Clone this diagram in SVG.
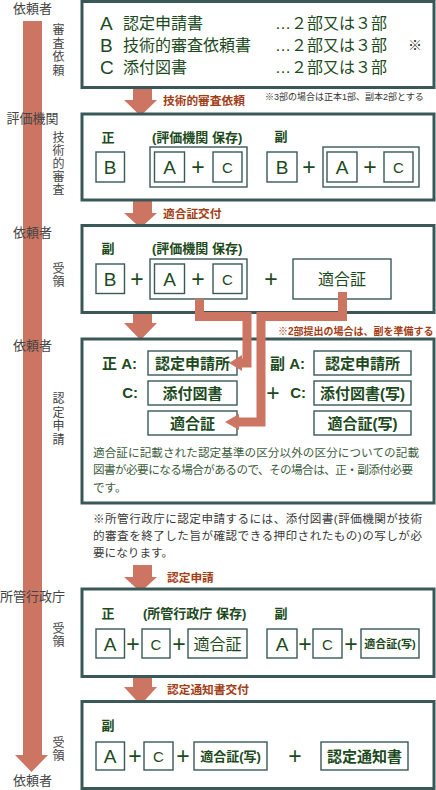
<svg xmlns="http://www.w3.org/2000/svg" width="436" height="790" viewBox="0 0 436 790">
<style>
text{font-family:"Liberation Sans","Noto Sans CJK JP",sans-serif;dominant-baseline:central}
.frame{fill:#fff;stroke:#3a5858;stroke-width:3}
.ib{fill:#fff;stroke:#3a5858;stroke-width:1.4}
.t{fill:#1d4a1d}
.lbl{fill:#444;font-size:13px}
.vl{fill:#444;font-size:12px;text-anchor:middle}
.red{fill:#a33d15;font-size:11.7px;font-weight:bold}
.big{font-size:16px;fill:#1d4a1d}
.hd{font-size:13px;font-weight:bold;fill:#1d4a1d}
.L{font-size:19px;fill:#1d4a1d;text-anchor:middle}
.C{font-size:15px;fill:#1d4a1d;text-anchor:middle}
.p{font-size:23px;fill:#1d4a1d;text-anchor:middle}
.bx{font-size:15px;font-weight:bold;fill:#1d4a1d;text-anchor:middle}
.para{font-size:11.6px;fill:#3d5d3d}
.note{font-size:11.6px;fill:#3a3a3a}
.arr{fill:#cc7563}
.conn{fill:none;stroke:#cc7563;stroke-width:9;stroke-linejoin:miter}
</style>

<g id="flow-bar">
<rect class="arr" x="23" y="21" width="19" height="735"/>
<polygon class="arr" points="15,755 48,755 31.5,772"/>
</g>

<g id="side-labels">
<text class="lbl" x="32.5" y="8" text-anchor="middle">依頼者</text>
<text class="lbl" x="32.5" y="118" text-anchor="middle">評価機関</text>
<text class="lbl" x="32.5" y="232" text-anchor="middle">依頼者</text>
<text class="lbl" x="32.5" y="345" text-anchor="middle">依頼者</text>
<text class="lbl" x="32.5" y="596" text-anchor="middle">所管行政庁</text>
<text class="lbl" x="32.5" y="780" text-anchor="middle">依頼者</text>
<text class="vl"><tspan x="58.5" y="30">審</tspan><tspan x="58.5" y="43.5">査</tspan><tspan x="58.5" y="57">依</tspan><tspan x="58.5" y="70.5">頼</tspan></text>
<text class="vl"><tspan x="58.5" y="138">技</tspan><tspan x="58.5" y="151">術</tspan><tspan x="58.5" y="164">的</tspan><tspan x="58.5" y="177">審</tspan><tspan x="58.5" y="190">査</tspan></text>
<text class="vl"><tspan x="58.5" y="269">受</tspan><tspan x="58.5" y="282">領</tspan></text>
<text class="vl"><tspan x="58.5" y="399">認</tspan><tspan x="58.5" y="412.5">定</tspan><tspan x="58.5" y="426">申</tspan><tspan x="58.5" y="439.5">請</tspan></text>
<text class="vl"><tspan x="58.5" y="629">受</tspan><tspan x="58.5" y="642">領</tspan></text>
<text class="vl"><tspan x="58.5" y="743">受</tspan><tspan x="58.5" y="756">領</tspan></text>
</g>

<g id="step-arrows">
<rect class="arr" x="133" y="88" width="19" height="13"/><polygon class="arr" points="124,100 157,100 140.5,116"/>
<rect class="arr" x="133" y="200" width="19" height="14"/><polygon class="arr" points="124,213 157,213 140.5,228"/>
<rect class="arr" x="133" y="313" width="19" height="11"/><polygon class="arr" points="124,323 157,323 140.5,340"/>
<rect class="arr" x="133" y="565" width="19" height="13"/><polygon class="arr" points="124,577 157,577 140.5,592"/>
<rect class="arr" x="133" y="677" width="19" height="11"/><polygon class="arr" points="124,687 157,687 140.5,705"/>
<text class="red" x="163" y="100">技術的審査依頼</text>
<text x="265" y="97" style="font-size:9px;fill:#333">※3部の場合は正本1部、副本2部とする</text>
<text class="red" x="163" y="213">適合証交付</text>
<text class="red" x="167" y="577">認定申請</text>
<text class="red" x="167" y="689">認定通知書交付</text>
</g>

<g id="box1">
<rect class="frame" x="82" y="1.5" width="352" height="86"/>
<text class="t" x="100" y="23" style="font-size:19px">A</text>
<text class="t" x="100" y="45" style="font-size:19px">B</text>
<text class="t" x="100" y="67" style="font-size:19px">C</text>
<text class="big" x="123" y="23">認定申請書</text>
<text class="big" x="123" y="45">技術的審査依頼書</text>
<text class="big" x="123" y="67">添付図書</text>
<text class="big" x="275" y="23">…２部又は３部</text>
<text class="big" x="275" y="45">…２部又は３部</text>
<text class="big" x="275" y="67">…２部又は３部</text>
<text x="408" y="45" style="font-size:14px;fill:#333">※</text>
</g>

<g id="box2">
<rect class="frame" x="82" y="114" width="352" height="86"/>
<text class="hd" x="108" y="137" text-anchor="middle">正</text>
<text class="hd" x="152" y="137">(評価機関 保存)</text>
<text class="hd" x="281" y="136" text-anchor="middle">副</text>
<rect class="ib" x="96" y="152" width="28.5" height="30"/><text class="L" x="110" y="167">B</text>
<rect class="ib" x="150" y="147" width="97" height="40"/>
<rect class="ib" x="154.5" y="152" width="30" height="30"/><text class="L" x="169.5" y="167">A</text>
<text class="p" x="198" y="167">+</text>
<rect class="ib" x="213" y="152" width="29" height="30"/><text class="C" x="227.5" y="167">C</text>
<rect class="ib" x="267" y="152" width="30" height="30"/><text class="L" x="282" y="167">B</text>
<text class="p" x="309" y="167">+</text>
<rect class="ib" x="323" y="147" width="96" height="40"/>
<rect class="ib" x="327" y="152" width="30" height="30"/><text class="L" x="342" y="167">A</text>
<text class="p" x="370" y="167">+</text>
<rect class="ib" x="384" y="152" width="29" height="30"/><text class="C" x="398.5" y="167">C</text>
</g>

<g id="box3">
<rect class="frame" x="82" y="225.5" width="352" height="87"/>
<text class="hd" x="108" y="248" text-anchor="middle">副</text>
<text class="hd" x="152" y="248">(評価機関 保存)</text>
<rect class="ib" x="96" y="264" width="28.5" height="29.5"/><text class="L" x="110" y="279">B</text>
<text class="p" x="137" y="279">+</text>
<rect class="ib" x="150" y="259" width="97" height="40"/>
<rect class="ib" x="154.5" y="264" width="30" height="29.5"/><text class="L" x="169.5" y="279">A</text>
<text class="p" x="198" y="279">+</text>
<rect class="ib" x="213" y="264" width="29" height="29.5"/><text class="C" x="227.5" y="279">C</text>
<text class="p" x="271" y="279">+</text>
<rect class="ib" x="293" y="259" width="98" height="40"/><text class="big" x="342" y="279" text-anchor="middle">適合証</text>
</g>

<g id="box4">
<rect class="frame" x="82" y="339" width="352" height="164"/>
<text x="278" y="331" style="font-size:10px;font-weight:bold;fill:#a33d15">※2部提出の場合は、副を準備する</text>
<text class="t" x="102" y="363" style="font-size:15px;font-weight:bold">正 A:</text>
<text class="t" x="138" y="392" text-anchor="end" style="font-size:15px;font-weight:bold">C:</text>
<rect class="ib" x="148" y="351" width="89" height="24"/><text class="bx" x="192.5" y="363">認定申請所</text>
<rect class="ib" x="148" y="381" width="89" height="24"/><text class="bx" x="192.5" y="393">添付図書</text>
<rect class="ib" x="148" y="411" width="89" height="24"/><text class="bx" x="192.5" y="423">適合証</text>
<text class="t" x="270" y="363" style="font-size:15px;font-weight:bold">副 A:</text>
<text class="p" x="273" y="393">+</text>
<text class="t" x="306" y="392" text-anchor="end" style="font-size:15px;font-weight:bold">C:</text>
<rect class="ib" x="314" y="351" width="97" height="24"/><text class="bx" x="362.5" y="363">認定申請所</text>
<rect class="ib" x="314" y="381" width="97" height="24"/><text class="bx" x="362.5" y="393">添付図書(写)</text>
<rect class="ib" x="314" y="411" width="97" height="24"/><text class="bx" x="362.5" y="423">適合証(写)</text>
<text class="para" x="93" y="452" textLength="326">適合証に記載された認定基準の区分以外の区分についての記載</text>
<text class="para" x="93" y="469" textLength="320">図書が必要になる場合があるので、その場合は、正・副添付必要</text>
<text class="para" x="93" y="487">です。</text>
</g>

<g id="connectors">
<path class="conn" d="M199.5,299 V316.5 H247 V363 H241"/>
<polygon class="arr" points="242,355 242,371 229,363"/>
<path class="conn" d="M342.5,292 V316.5 H261 V422 H238"/>
<polygon class="arr" points="239,414 239,430 225,422"/>
</g>

<g id="note">
<text class="note" x="93" y="518" textLength="329">※所管行政庁に認定申請するには、添付図書(評価機関が技術</text>
<text class="note" x="93" y="535" textLength="329">的審査を終了した旨が確認できる押印されたもの)の写しが必</text>
<text class="note" x="93" y="552">要になります。</text>
</g>

<g id="box5">
<rect class="frame" x="82" y="589" width="352" height="87.5"/>
<text class="hd" x="108" y="613" text-anchor="middle">正</text>
<text class="hd" x="143" y="613">(所管行政庁 保存)</text>
<text class="hd" x="281" y="613" text-anchor="middle">副</text>
<rect class="ib" x="96" y="629" width="28.5" height="29"/><text class="L" x="110" y="644">A</text>
<text class="p" x="133" y="644">+</text>
<rect class="ib" x="142" y="629" width="28" height="29"/><text class="C" x="156" y="644">C</text>
<text class="p" x="179" y="644">+</text>
<rect class="ib" x="188" y="629" width="59" height="29"/><text class="big" x="217.5" y="644" text-anchor="middle">適合証</text>
<rect class="ib" x="267" y="629" width="30" height="29"/><text class="L" x="282" y="644">A</text>
<text class="p" x="305" y="644">+</text>
<rect class="ib" x="313" y="629" width="29" height="29"/><text class="C" x="327.5" y="644">C</text>
<text class="p" x="351" y="644">+</text>
<rect class="ib" x="361" y="629" width="58" height="29"/><text class="t" x="390" y="644" text-anchor="middle" style="font-size:11px;font-weight:bold">適合証(写)</text>
</g>

<g id="box6">
<rect class="frame" x="82" y="701.5" width="352" height="87"/>
<text class="hd" x="108" y="725" text-anchor="middle">副</text>
<rect class="ib" x="96" y="742" width="28.5" height="28"/><text class="L" x="110" y="756">A</text>
<text class="p" x="135" y="756">+</text>
<rect class="ib" x="144" y="742" width="29" height="28"/><text class="C" x="158.5" y="756">C</text>
<text class="p" x="183" y="756">+</text>
<rect class="ib" x="194" y="742" width="73" height="28"/><text class="t" x="230.5" y="756" text-anchor="middle" style="font-size:13px;font-weight:bold">適合証(写)</text>
<text class="p" x="295" y="756">+</text>
<rect class="ib" x="321" y="742" width="87" height="28"/><text class="bx" x="364.5" y="756">認定通知書</text>
</g>
</svg>
